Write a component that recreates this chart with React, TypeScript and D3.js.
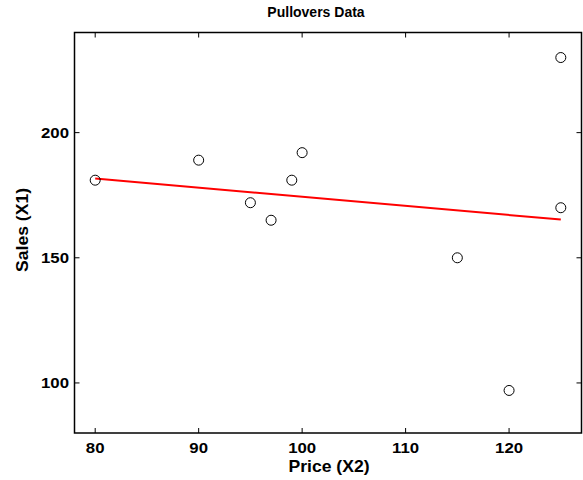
import React from "react";
import * as d3 from "d3";

const price = [125, 99, 97, 115, 120, 100, 80, 90, 95, 125];
const sales = [230, 181, 165, 150, 97, 192, 181, 189, 172, 170];
const fitX = [80, 125];
const fitY = [181.65, 165.27];
const xTicks = [80, 90, 100, 110, 120];
const yTicks = [100, 150, 200];

const W = 583;
const H = 480;
const L = 74.5, R = 581.5, T = 32.5, B = 433;
const font = "'Liberation Sans', Arial, Helvetica, sans-serif";

export default function App() {
  const x = d3.scaleLinear().domain([78, 127]).range([L, R]);
  const y = d3.scaleLinear().domain([80, 240]).range([B, T]);
  const line = d3.line<number>().x((d) => x(fitX[d])).y((d) => y(fitY[d]));
  const tk = 5;
  const sx = 1.12;
  return (
    <svg width={W} height={H} style={{ position: "absolute", left: 0, top: 0 }} fontFamily={font}>
      <rect x={0} y={0} width={W} height={H} fill="#fff" />
      <text x={316} y={17} textAnchor="middle" fontSize={14} fontWeight="bold">Pullovers Data</text>
      {xTicks.map((t) => (
        <g key={"x" + t}>
          <line x1={x(t)} x2={x(t)} y1={B} y2={B - tk} stroke="#000" />
          <line x1={x(t)} x2={x(t)} y1={T} y2={T + tk} stroke="#000" />
          <text transform={`translate(${x(t)},452.5) scale(${sx},1)`} textAnchor="middle" fontSize={15} fontWeight="bold">{t}</text>
        </g>
      ))}
      {yTicks.map((t) => (
        <g key={"y" + t}>
          <line x1={L} x2={L + tk} y1={y(t)} y2={y(t)} stroke="#000" />
          <line x1={R} x2={R - tk} y1={y(t)} y2={y(t)} stroke="#000" />
          <text transform={`translate(69,${y(t) + 5.5}) scale(${sx},1)`} textAnchor="end" fontSize={15} fontWeight="bold">{t}</text>
        </g>
      ))}
      <rect x={L} y={T} width={R - L} height={B - T} fill="none" stroke="#000" strokeWidth={1.5} />
      <path d={line([0, 1]) || ""} stroke="#ff0000" strokeWidth={2} fill="none" />
      {price.map((p, i) => (
        <circle key={i} cx={x(p)} cy={y(sales[i])} r={5} fill="none" stroke="#000" strokeWidth={1} />
      ))}
      <text transform={`translate(329,471.5) scale(1.1,1)`} textAnchor="middle" fontSize={16} fontWeight="bold">Price (X2)</text>
      <text transform={`translate(28,230) rotate(-90) scale(1.1,1)`} textAnchor="middle" fontSize={16} fontWeight="bold">Sales (X1)</text>
    </svg>
  );
}
